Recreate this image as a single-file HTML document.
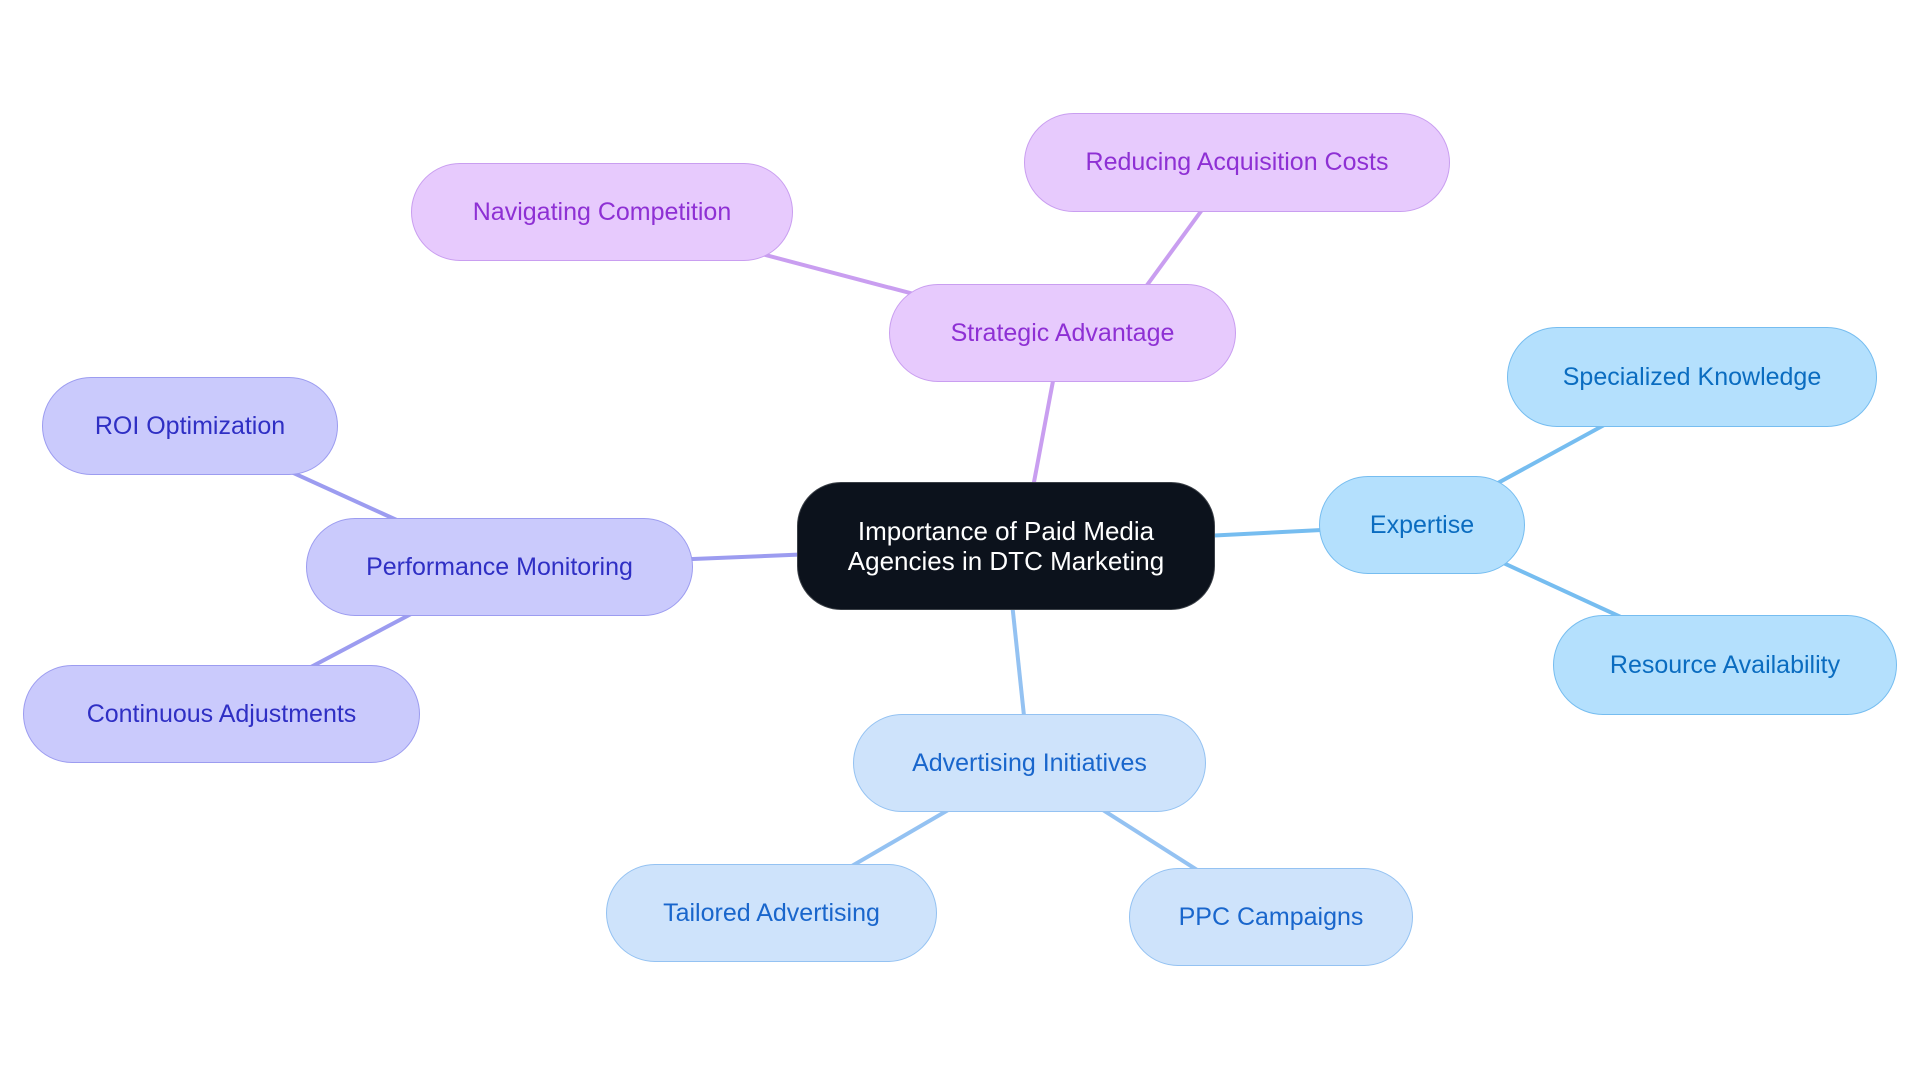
<!DOCTYPE html>
<html><head><meta charset="utf-8"><style>
html,body{margin:0;padding:0;background:#fff;width:1920px;height:1083px;overflow:hidden}
.n{position:absolute;box-sizing:border-box;border-radius:50px;display:flex;align-items:center;justify-content:center;text-align:center;font-family:"Liberation Sans",sans-serif;font-size:25px;border:1.5px solid}
.p{background:#e7cafd;border-color:#c99ef0;color:#8e30d4}
.b{background:#b4e0fd;border-color:#76bdf0;color:#0a6cc0}
.i{background:#cacafc;border-color:#9c9cf0;color:#2f2fc4}
.l{background:#cee3fb;border-color:#94c2f2;color:#1966cc}
</style></head><body>
<svg width="1920" height="1083" style="position:absolute;left:0;top:0">
<g stroke-width="4" fill="none">
<line x1="1022" y1="546" x2="1062" y2="333" stroke="#c99ef0"/>
<line x1="1112" y1="333" x2="1237" y2="162" stroke="#c99ef0"/>
<line x1="1062" y1="333" x2="602" y2="212" stroke="#c99ef0"/>
<line x1="1006" y1="546" x2="1421" y2="525" stroke="#76bdf0"/>
<line x1="1421" y1="525" x2="1692" y2="377" stroke="#76bdf0"/>
<line x1="1421" y1="525" x2="1725" y2="665" stroke="#76bdf0"/>
<line x1="1006" y1="546" x2="500" y2="567" stroke="#9c9cf0"/>
<line x1="500" y1="567" x2="190" y2="426" stroke="#9c9cf0"/>
<line x1="500" y1="567" x2="222" y2="714" stroke="#9c9cf0"/>
<line x1="1006" y1="546" x2="1029" y2="763" stroke="#94c2f2"/>
<line x1="1029" y1="763" x2="771" y2="913" stroke="#94c2f2"/>
<line x1="1029" y1="763" x2="1271" y2="917" stroke="#94c2f2"/>
</g></svg>
<div class="n" style="left:797px;top:482px;width:418px;height:128px;background:#0c121c;border-color:#3a3f46;color:#fff;border-radius:44px;font-size:26px;line-height:30px">Importance of Paid Media<br>Agencies in DTC Marketing</div>
<div class="n p" style="left:889px;top:284px;width:347px;height:98px">Strategic Advantage</div>
<div class="n p" style="left:1024px;top:113px;width:426px;height:99px">Reducing Acquisition Costs</div>
<div class="n p" style="left:411px;top:163px;width:382px;height:98px">Navigating Competition</div>
<div class="n b" style="left:1319px;top:476px;width:206px;height:98px">Expertise</div>
<div class="n b" style="left:1507px;top:327px;width:370px;height:100px">Specialized Knowledge</div>
<div class="n b" style="left:1553px;top:615px;width:344px;height:100px">Resource Availability</div>
<div class="n i" style="left:306px;top:518px;width:387px;height:98px">Performance Monitoring</div>
<div class="n i" style="left:42px;top:377px;width:296px;height:98px">ROI Optimization</div>
<div class="n i" style="left:23px;top:665px;width:397px;height:98px">Continuous Adjustments</div>
<div class="n l" style="left:853px;top:714px;width:353px;height:98px">Advertising Initiatives</div>
<div class="n l" style="left:606px;top:864px;width:331px;height:98px">Tailored Advertising</div>
<div class="n l" style="left:1129px;top:868px;width:284px;height:98px">PPC Campaigns</div>
</body></html>
